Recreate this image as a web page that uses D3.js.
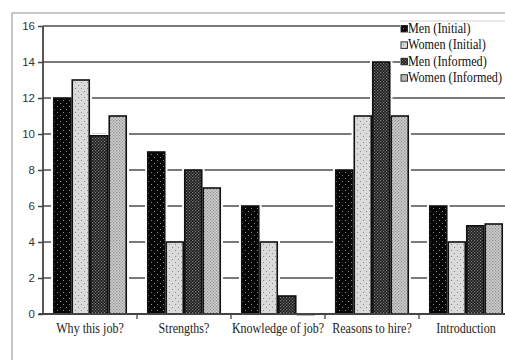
<!DOCTYPE html>
<html><head><meta charset="utf-8">
<script src="https://cdn.jsdelivr.net/npm/d3@7"></script>
<style>html,body{margin:0;padding:0;background:#fff;overflow:hidden;}svg{display:block;}</style>
</head><body>
<svg id="c" width="505" height="360"></svg>
<script>
const categories = ["Why this job?", "Strengths?", "Knowledge of job?", "Reasons to hire?", "Introduction"];
const series = ["Men (Initial)", "Women (Initial)", "Men (Informed)", "Women (Informed)"];
const menInitial = [12, 9, 6, 8, 6];
const womenInitial = [13, 4, 4, 11, 4];
const menInformed = [9.9, 8, 1, 14, 4.9];
const womenInformed = [11, 7, 0, 11, 5];
const yTicks = [0, 2, 4, 6, 8, 10, 12, 14, 16];

const SERIF = "'Liberation Serif','DejaVu Serif','Noto Serif','Times New Roman',Times,serif";
const values = [menInitial, womenInitial, menInformed, womenInformed];
const svg = d3.select("#c");
const defs = svg.append("defs");

function pat(id, bg, size, dots, col, r) {
  const p = defs.append("pattern").attr("id", id).attr("patternUnits", "userSpaceOnUse")
    .attr("width", size).attr("height", size);
  p.append("rect").attr("width", size).attr("height", size).attr("fill", bg);
  dots.forEach(d => p.append("rect").attr("x", d[0]).attr("y", d[1]).attr("width", r).attr("height", r).attr("fill", col));
}
pat("p0", "#050505", 6, [[1,1],[4,4]], "#8a8a8a", 1);
pat("p1", "#dadada", 6, [[1,1],[4,4]], "#8a8a8a", 1);
pat("p2", "#1a1a1a", 3, [[0,0],[1.5,1.5]], "#808080", 1.2);
pat("p3", "#cfcfcf", 3, [[0,0],[1.5,1.5]], "#8c8c8c", 1.2);
const fills = ["url(#p0)", "url(#p1)", "url(#p2)", "url(#p3)"];

// outer frame
svg.append("rect").attr("x", 12).attr("y", 13).attr("width", 600).attr("height", 400)
  .attr("fill", "none").attr("stroke", "#b5b5b5").attr("stroke-width", 1.5);

const x0 = d3.scaleBand().domain(categories).range([43, 513]).paddingInner(0.213).paddingOuter(0.1065);
const x1 = d3.scaleBand().domain(series).range([0, x0.bandwidth()]);
const y = d3.scaleLinear().domain([0, 16]).range([314, 26]);

// gridlines
svg.append("g").selectAll("line").data(yTicks.filter(t => t > 0)).join("line")
  .attr("x1", 43).attr("x2", 505).attr("y1", d => y(d)).attr("y2", d => y(d))
  .attr("stroke", "#7a7a7a").attr("stroke-width", 1.8);

// y axis
const yAxis = svg.append("g").attr("transform", "translate(43,0)")
  .call(d3.axisLeft(y).tickValues(yTicks).tickSize(5).tickPadding(3).tickFormat(d3.format("d")));
yAxis.select(".domain").remove();
yAxis.selectAll(".tick line").attr("stroke", "#444").attr("stroke-width", 1.5);
yAxis.selectAll(".tick text").attr("font-family", "'Liberation Sans Narrow','Liberation Sans',Arial,sans-serif")
  .attr("font-size", 11.5).attr("fill", "#333");
svg.append("line").attr("x1", 43).attr("x2", 43).attr("y1", y(16)).attr("y2", y(0))
  .attr("stroke", "#444").attr("stroke-width", 1.8);

// bars
const groups = svg.append("g").selectAll("g").data(categories).join("g")
  .attr("transform", d => `translate(${x0(d)},0)`);
const barData = (c, ci) => series.map((s, si) => ({s, si, v: values[si][ci]}));
groups.each(function(c, ci) {
  const g = d3.select(this);
  const data = barData(c, ci);
  g.selectAll("rect.halo").data(data).join("rect").attr("class", "halo")
    .attr("x", d => x1(d.s) - 2).attr("width", x1.bandwidth() + 4)
    .attr("y", d => y(d.v) - 2.5).attr("height", d => y(0) - y(d.v) + 2.5)
    .attr("fill", "#fff");
  g.selectAll("rect.bar").data(data).join("rect").attr("class", "bar")
    .attr("x", d => x1(d.s) + 0.75).attr("width", x1.bandwidth() - 1.5)
    .attr("y", d => y(d.v)).attr("height", d => Math.max(0.5, y(0) - y(d.v)))
    .attr("fill", d => fills[d.si]).attr("stroke", "#111").attr("stroke-width", 1.6);
});

// x axis
svg.append("line").attr("x1", 39).attr("x2", 505).attr("y1", y(0)).attr("y2", y(0))
  .attr("stroke", "#444").attr("stroke-width", 1.8);
svg.append("g").selectAll("line").data(categories.slice(1)).join("line")
  .attr("x1", d => x0(d) - x0.step() * x0.paddingInner() / 2)
  .attr("x2", d => x0(d) - x0.step() * x0.paddingInner() / 2)
  .attr("y1", y(0)).attr("y2", y(0) + 5).attr("stroke", "#444").attr("stroke-width", 1.3);

svg.append("g").selectAll("text").data(categories).join("text")
  .attr("transform", d => `translate(${x0(d) + x0.bandwidth() / 2},333) scale(0.86,1)`)
  .attr("text-anchor", "middle").style("font-family", SERIF)
  .attr("font-size", 14).attr("fill", "#222").text(d => d);

// legend
const lg = svg.append("g");
lg.append("rect").attr("x", 400).attr("y", 21).attr("width", 120).attr("height", 67).attr("fill", "#fff");
lg.append("line").attr("x1", 400).attr("x2", 505).attr("y1", 21).attr("y2", 21).attr("stroke", "#d0d0d0").attr("stroke-width", 1);
const items = lg.selectAll("g").data(series).join("g")
  .attr("transform", (d, i) => `translate(0,${33 + i * 16.4})`);
items.append("rect").attr("x", 401).attr("y", -7.5).attr("width", 6.5).attr("height", 6.5)
  .attr("fill", (d, i) => fills[i]).attr("stroke", "#222").attr("stroke-width", 0.9);
items.append("text").attr("transform", "translate(408,0) scale(0.87,1)")
  .style("font-family", SERIF).attr("font-size", 14)
  .attr("fill", "#111").text(d => d);
</script>
</body></html>
